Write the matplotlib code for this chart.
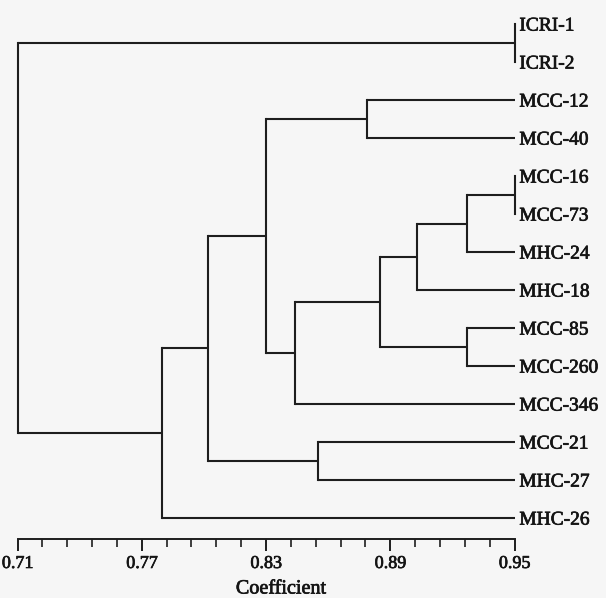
import numpy as np
import matplotlib.pyplot as plt
import matplotlib.patheffects as pe

# leaves, top to bottom
leaves = ["ICRI-1", "ICRI-2", "MCC-12", "MCC-40", "MCC-16", "MCC-73", "MHC-24",
          "MHC-18", "MCC-85", "MCC-260", "MCC-346", "MCC-21", "MHC-27", "MHC-26"]

# merges: (child a, child b, coefficient); an int child = earlier merge index
merges = [
    ("ICRI-1", "ICRI-2", 0.95),   # 0
    ("MCC-16", "MCC-73", 0.95),   # 1
    (1, "MHC-24", 0.927),         # 2
    ("MCC-85", "MCC-260", 0.927), # 3
    (2, "MHC-18", 0.903),         # 4
    ("MCC-12", "MCC-40", 0.879),  # 5
    (4, 3, 0.885),                # 6
    ("MCC-21", "MHC-27", 0.855),  # 7
    (6, "MCC-346", 0.844),        # 8
    (5, 8, 0.830),                # 9
    (9, 7, 0.802),                # 10
    (10, "MHC-26", 0.780),        # 11
    (0, 11, 0.71),                # 12
]

major_ticks = [0.71, 0.77, 0.83, 0.89, 0.95]
leaf_end = 0.95

plt.rcParams['font.family'] = ['Liberation Serif', 'DejaVu Serif']

W, H = 606, 598
fig = plt.figure(figsize=(W / 100, H / 100), dpi=100, facecolor='#f6f6f6')
ax = fig.add_axes([17.5 / W, (H - 539) / H, 497 / W, (539 - 24) / H])
ax.set_facecolor('none')
ax.set_xlim(0.71, 0.95)
ax.set_ylim(13 + 21 / 38, 0)

lc = '#1e1e1e'
tc = '#141414'
lw = 1.5
heavy = [pe.withStroke(linewidth=0.5, foreground=tc)]

pos = {}  # node -> (x, y)
for i, name in enumerate(leaves):
    pos[name] = (leaf_end, i)

for k, (a, b, c) in enumerate(merges):
    xa, ya = pos[a]
    xb, yb = pos[b]
    ax.plot([xa, c], [ya, ya], color=lc, lw=lw, solid_capstyle='butt', clip_on=False)
    ax.plot([xb, c], [yb, yb], color=lc, lw=lw, solid_capstyle='butt', clip_on=False)
    ax.plot([c, c], [ya, yb], color=lc, lw=lw, solid_capstyle='projecting', clip_on=False)
    pos[k] = (c, (ya + yb) / 2)

for i, name in enumerate(leaves):
    ax.annotate(name, (leaf_end, i), xytext=(3.5, -1.5), textcoords='offset points',
                ha='left', va='center', fontsize=14, color=tc,
                annotation_clip=False, path_effects=heavy)

# axis
for s in ['top', 'left', 'right']:
    ax.spines[s].set_visible(False)
ax.spines['bottom'].set_linewidth(1.4)
ax.spines['bottom'].set_color(lc)
ax.set_yticks([])
ax.set_xticks(major_ticks)
ax.set_xticklabels([f'{t:.2f}' for t in major_ticks])
ax.set_xticks(np.linspace(0.71, 0.95, 21), minor=True)
ax.tick_params(axis='x', which='major', length=8.5, width=1.4, color=lc,
               labelsize=13, pad=3, labelcolor=tc)
ax.tick_params(axis='x', which='minor', length=5.5, width=1.2, color=lc)
for lab in ax.get_xticklabels():
    lab.set_path_effects(heavy)

fig.text(281 / W, 1 - 589 / H, 'Coefficient', ha='center', va='center',
         fontsize=14.5, color=tc, path_effects=heavy)

fig.savefig('out.png', dpi=100, facecolor=fig.get_facecolor())
